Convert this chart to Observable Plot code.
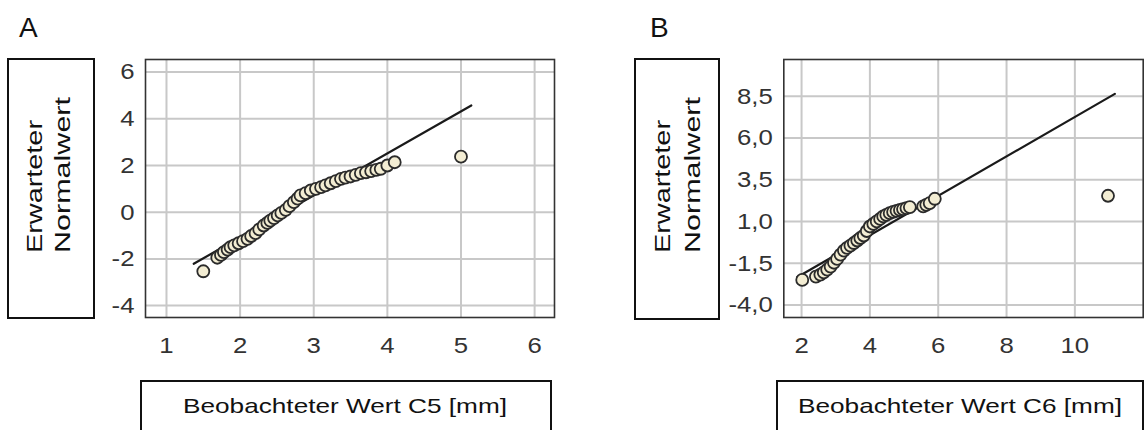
<!DOCTYPE html>
<html>
<head>
<meta charset="utf-8">
<script src="https://cdn.jsdelivr.net/npm/d3@7"></script>
<script src="https://cdn.jsdelivr.net/npm/@observablehq/plot@0.6"></script>
<style>
  html, body { margin: 0; padding: 0; background: #fff; }
  #root { position: relative; width: 1145px; height: 430px; overflow: hidden; font-family: "Liberation Sans", Arial, sans-serif; }
  #root > * { position: absolute; }
</style>
</head>
<body>
<div id="root"></div>
<script>
// ---- Panel A data (C5) ----
const aObserved = [1.50, 1.69, 1.74, 1.78, 1.83, 1.87, 1.92, 1.98, 2.04, 2.10, 2.15, 2.21, 2.26, 2.32, 2.37, 2.41, 2.46, 2.51, 2.56, 2.62, 2.67, 2.73, 2.78, 2.82, 2.89, 2.96, 3.03, 3.10, 3.16, 3.23, 3.30, 3.37, 3.43, 3.50, 3.57, 3.64, 3.71, 3.78, 3.85, 3.91, 4.00, 4.10, 5.00];
const aExpected = [-2.53, -1.95, -1.83, -1.71, -1.60, -1.50, -1.42, -1.33, -1.24, -1.14, -1.02, -0.90, -0.74, -0.57, -0.46, -0.36, -0.25, -0.14, -0.03, 0.10, 0.26, 0.43, 0.58, 0.72, 0.82, 0.93, 1.00, 1.07, 1.15, 1.24, 1.33, 1.43, 1.48, 1.53, 1.60, 1.67, 1.71, 1.76, 1.81, 1.86, 2.00, 2.14, 2.38];
const aLineX = [1.37, 5.14];
const aLineY = [-2.21, 4.57];
const aXTicks = [1, 2, 3, 4, 5, 6];
const aYTicks = [-4, -2, 0, 2, 4, 6];

// ---- Panel B data (C6) ----
const bObserved = [2.02, 2.42, 2.55, 2.65, 2.75, 2.85, 2.95, 3.04, 3.14, 3.24, 3.33, 3.43, 3.53, 3.63, 3.72, 3.82, 3.91, 4.00, 4.10, 4.20, 4.30, 4.39, 4.48, 4.58, 4.68, 4.78, 4.88, 4.97, 5.07, 5.17, 5.56, 5.65, 5.75, 5.90, 10.97];
const bExpected = [-2.50, -2.30, -2.18, -2.05, -1.88, -1.70, -1.47, -1.24, -0.98, -0.74, -0.58, -0.44, -0.29, -0.14, 0.01, 0.16, 0.43, 0.70, 0.85, 1.00, 1.15, 1.30, 1.40, 1.50, 1.57, 1.64, 1.69, 1.74, 1.80, 1.86, 1.90, 2.00, 2.10, 2.36, 2.54];
const bLineX = [1.87, 11.17];
const bLineY = [-2.34, 8.64];
const bXTicks = [2, 4, 6, 8, 10];
const bYTicks = [-4.0, -1.5, 1.0, 3.5, 6.0, 8.5];

// ---- Texts ----
const panelLetters = ["A", "B"];
const yLabelLines = ["Erwarteter", "Normalwert"];
const xLabels = ["Beobachteter Wert C5 [mm]", "Beobachteter Wert C6 [mm]"];

const root = document.getElementById("root");

// Background annotation layer (boxes, letters, axis titles)
const svg = d3.select(root).append("svg")
  .attr("width", 1145).attr("height", 430)
  .style("left", "0px").style("top", "0px");

const boxes = [
  {x: 8, y: 59, w: 86, h: 259},
  {x: 635, y: 59, w: 84, h: 260},
  {x: 141, y: 381, w: 410, h: 60},
  {x: 777, y: 381, w: 366, h: 60}
];
svg.selectAll("rect.box").data(boxes).join("rect")
  .attr("x", d => d.x).attr("y", d => d.y).attr("width", d => d.w).attr("height", d => d.h)
  .attr("fill", "none").attr("stroke", "#111").attr("stroke-width", 2);

const font = "'Liberation Sans', Arial, sans-serif";
[[19, 37], [650, 37]].forEach(([x, y], i) => {
  svg.append("text").attr("x", x).attr("y", y).text(panelLetters[i])
    .attr("font-family", font).attr("font-size", 28).attr("fill", "#111");
});

// rotated y-axis titles
[[42, 70], [670, 700]].forEach(cols => {
  const lens = [133, 156];
  cols.forEach((bx, k) => {
    svg.append("text")
      .attr("transform", `translate(${bx},253) rotate(-90)`)
      .attr("font-family", font).attr("font-size", 22).attr("fill", "#111")
      .attr("textLength", lens[k]).attr("lengthAdjust", "spacingAndGlyphs")
      .text(yLabelLines[k]);
  });
});

// x-axis titles
[[183, 324], [798, 324]].forEach(([x, len], i) => {
  svg.append("text").attr("x", x).attr("y", 413)
    .attr("font-family", font).attr("font-size", 21).attr("fill", "#111")
    .attr("textLength", len).attr("lengthAdjust", "spacingAndGlyphs")
    .text(xLabels[i]);
});

function panel({obs, exp, lineX, lineY, xTicks, yTicks, xDomain, yDomain, width, marginLeft, marginRight, yFmt}) {
  const pts = obs.map((x, i) => ({x, y: exp[i]}));
  const line = lineX.map((x, i) => ({x, y: lineY[i]}));
  const p = Plot.plot({
    width, height: 320,
    marginLeft, marginRight, marginTop: 9, marginBottom: 53,
    x: {domain: xDomain},
    y: {domain: yDomain},
    style: {fontFamily: font, fontSize: "23px", color: "#333", background: "transparent", overflow: "visible"},
    marks: [
      Plot.gridX(xTicks, {stroke: "#c8c8c8", strokeOpacity: 1, strokeWidth: 2}),
      Plot.gridY(yTicks, {stroke: "#c8c8c8", strokeOpacity: 1, strokeWidth: 2}),
      Plot.frame({stroke: "#333", strokeWidth: 1.6}),
      Plot.line(line, {x: "x", y: "y", stroke: "#1a1a1a", strokeWidth: 2.2}),
      Plot.dot(pts, {x: "x", y: "y", r: 6, fill: "#f3edd3", stroke: "#2b2b2b", strokeWidth: 1.8}),
      Plot.axisX(xTicks, {tickSize: 0, tickPadding: 19, label: null}),
      Plot.axisY(yTicks, {tickSize: 0, tickPadding: 11, label: null, tickFormat: yFmt})
    ]
  });
  // widen tick label glyphs slightly, as in the reference
  d3.select(p).selectAll("g[aria-label$='tick label'] text").each(function() {
    const t = this.getAttribute("transform") || "";
    this.setAttribute("transform", t + " scale(1.12,1)");
  });
  return p;
}

const plotA = panel({
  obs: aObserved, exp: aExpected, lineX: aLineX, lineY: aLineY,
  xTicks: aXTicks, yTicks: aYTicks,
  xDomain: [0.715, 6.27], yDomain: [-4.51, 6.54],
  width: 470, marginLeft: 45, marginRight: 16,
  yFmt: d => String(d)
});
plotA.style.left = "100px"; plotA.style.top = "50px";
root.appendChild(plotA);

const plotB = panel({
  obs: bObserved, exp: bExpected, lineX: bLineX, lineY: bLineY,
  xTicks: bXTicks, yTicks: bYTicks,
  xDomain: [1.48, 12.0], yDomain: [-4.75, 10.7],
  width: 405, marginLeft: 43.3, marginRight: 2.3,
  yFmt: d => d.toFixed(1).replace(".", ",")
});
plotB.style.left = "740px"; plotB.style.top = "50px";
root.appendChild(plotB);
</script>
</body>
</html>
